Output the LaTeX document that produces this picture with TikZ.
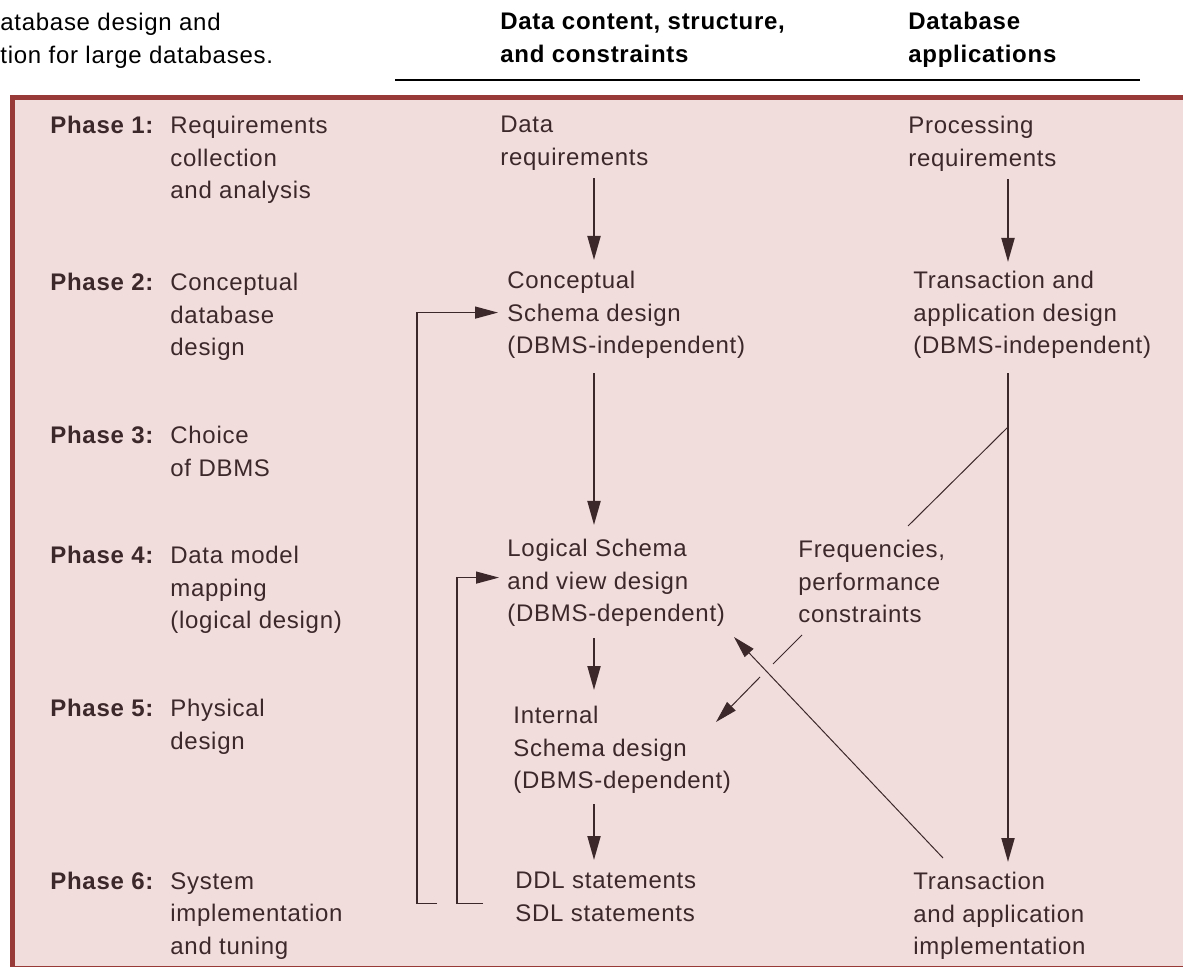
\documentclass[tikz,border=0pt]{standalone}
\usepackage{fontspec}
\setmainfont{Liberation Sans}[LetterSpace=3]
\usetikzlibrary{arrows.meta}

\definecolor{ink}{RGB}{60,40,42}
\definecolor{panel}{RGB}{242,221,221}
\definecolor{frame}{RGB}{152,58,56}

\tikzset{
  lbl/.style={anchor=north west, inner sep=0pt, align=left, text=ink,
    font=\fontsize{12}{16.25}\selectfont},
  phase/.style={lbl, font=\fontsize{12}{16.25}\selectfont\bfseries},
  head/.style={lbl, text=black, font=\fontsize{12}{16.25}\selectfont\bfseries},
  flow/.style={draw=ink, line width=1pt, -{Triangle[length=12pt,width=6.5pt]}},
  back/.style={draw=ink, line width=0.65pt, -{Triangle[length=11.5pt,width=6pt]}},
  thinline/.style={draw=ink, line width=0.5pt},
}

\begin{document}
\begin{tikzpicture}[x=0.5pt, y=-0.5pt]
  \useasboundingbox (0,0) rectangle (1183,967);

  % Panel
  \begin{scope}
    \clip (0,0) rectangle (1183,967);
    \draw[frame, fill=panel, line width=2.5pt] (12.5,97.5) rectangle (1200,968);
  \end{scope}

  % Caption and column heads
  \node[lbl, text=black] (cap) at (0,13) {atabase design and\\tion for large databases.};
  \node[head] (hdata) at (500,13) {Data content, structure,\\and constraints};
  \node[head] (happ) at (908,12) {Database\\applications};
  \coordinate (ruleL) at (395,80);
  \coordinate (ruleR) at (1140,80);
  \draw[line width=0.6pt] (ruleL) -- (ruleR);

  % Phases
  \node[phase] (p1) at (50,116) {Phase 1:};
  \node[lbl] (d1) at (170,116) {Requirements\\collection\\and analysis};
  \node[phase] (p2) at (50,273) {Phase 2:};
  \node[lbl] (d2) at (170,273) {Conceptual\\database\\design};
  \node[phase] (p3) at (50,426) {Phase 3:};
  \node[lbl] (d3) at (170,426) {Choice\\of DBMS};
  \node[phase] (p4) at (50,546) {Phase 4:};
  \node[lbl] (d4) at (170,546) {Data model\\mapping\\(logical design)};
  \node[phase] (p5) at (50,699) {Phase 5:};
  \node[lbl] (d5) at (170,699) {Physical\\design};
  \node[phase] (p6) at (50,872) {Phase 6:};
  \node[lbl] (d6) at (170,872) {System\\implementation\\and tuning};

  % Data column
  \node[lbl] (req) at (500,116) {Data\\requirements};
  \node[lbl] (concept) at (507,271) {Conceptual\\Schema design\\(DBMS-independent)};
  \node[lbl] (logical) at (507,539) {Logical Schema\\and view design\\(DBMS-dependent)};
  \node[lbl] (internal) at (513,706) {Internal\\Schema design\\(DBMS-dependent)};
  \node[lbl] (ddl) at (515,872) {DDL statements\\SDL statements};

  % Application column
  \node[lbl] (proc) at (908,116) {Processing\\requirements};
  \node[lbl] (trans) at (913,271) {Transaction and\\application design\\(DBMS-independent)};
  \node[lbl] (impl) at (913,872) {Transaction\\and application\\implementation};
  \node[lbl] (freq) at (798,540) {Frequencies,\\performance\\constraints};

  \coordinate (colL) at (594,0);
  \coordinate (colR) at (1008,0);

  % Downward flow
  \draw[flow, shorten <=3.75pt, shorten >=5.5pt] (req.south -| colL) -- (concept.north -| colL);
  \draw[flow, shorten <=7pt, shorten >=7pt] (concept.south -| colL) -- (logical.north -| colL);
  \draw[flow, shorten <=5.5pt, shorten >=8pt] (logical.south -| colL) -- (internal.north -| colL);
  \draw[flow, shorten <=5pt, shorten >=6pt] (internal.south -| colL) -- (ddl.north -| colL);
  \draw[flow, shorten <=3.75pt, shorten >=4.5pt] (proc.south -| colR) -- (trans.north -| colR);
  \draw[flow, shorten <=7pt, shorten >=5pt] (trans.south -| colR) -- (impl.north -| colR);

  % Feedback from DDL/SDL
  \draw[back, shorten >=4.5pt] ([xshift=-39pt, yshift=-3.1pt]ddl.west) -- ++(-20,0)
    |- ([yshift=1.25pt]concept.west);
  \draw[back, shorten >=4pt] ([xshift=-16pt, yshift=-3.1pt]ddl.west) -- ++(-26,0)
    |- ([yshift=2.75pt]logical.west);

  % Frequencies, performance constraints
  \coordinate (split) at (1008,427);
  \coordinate (freqin) at (908,526);
  \coordinate (freqout) at (802,635);
  \coordinate (gapA) at (773,664);
  \coordinate (gapB) at (760,677);
  \coordinate (phystip) at (716,722);
  \draw[thinline] (split) -- (freqin);
  \draw[thinline] (freqout) -- (gapA);
  \draw[thinline, -{Triangle[length=11pt,width=6pt]}] (gapB) -- (phystip);

  % Back to logical design
  \coordinate (implout) at (943,858);
  \coordinate (logtip) at (734,637);
  \draw[thinline, -{Triangle[length=11pt,width=6pt]}] (implout) -- (logtip);
\end{tikzpicture}
\end{document}
